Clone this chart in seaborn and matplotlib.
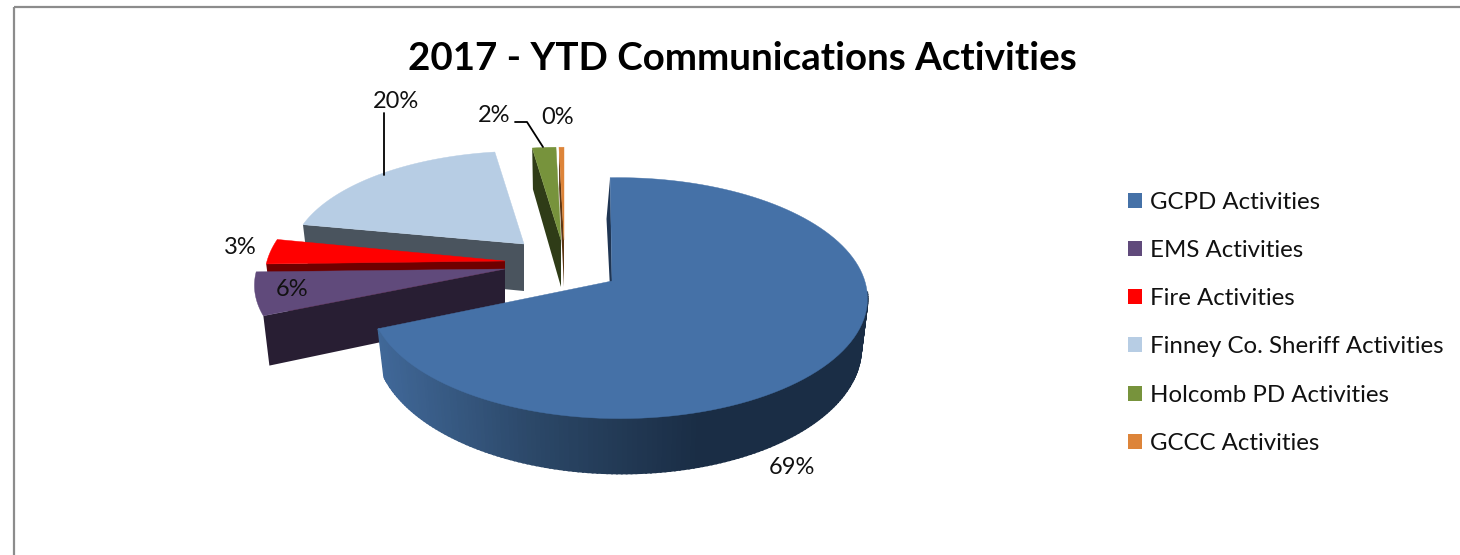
import numpy as np
import matplotlib.pyplot as plt
from matplotlib.patches import Patch
import seaborn as sns

# Chart data
title = "2017 - YTD Communications Activities"
categories = ["GCPD Activities", "EMS Activities", "Fire Activities",
              "Finney Co. Sheriff Activities", "Holcomb PD Activities", "GCCC Activities"]
shares = [68.6, 6.0, 3.4, 19.7, 1.9, 0.4]

# Colours: top faces and the darker side walls
top_colors = ["#4571a7", "#604a7b", "#ff0000", "#b7cde4", "#77933c", "#dd8439"]
wall_colors = ["#1f3553", "#281e33", "#6f0000", "#4a545e", "#2f3c17", "#5c3614"]

# Where each exploded slice ends up on the canvas (pixels)
apex_x = [612, 505, 505, 524, 561, 564]
apex_y = [281, 269, 261, 244, 240, 240]
radius_x = [246, 248, 238, 231, 228, 228]
radius_y = [118, 113, 118, 106, 106, 106]
yaw = [-0.027, 0, 0, 0, 0, 0]
start_shift = [-0.5, 0, 0, 0, 0, 0]
wall_lean = [1.0, 0, 0, 0, 0, 0]
persp = 0.142
depth = 47
draw_order = [3, 4, 5, 2, 1, 0]

sns.set_theme(style="white")
plt.rcParams["font.family"] = ["Lato", "DejaVu Sans"]

fig, ax = plt.subplots(figsize=(14.6, 5.55), dpi=100)
ax.set_position([0, 0, 1, 1])
ax.axis("off")

# frame of the original chart box
ax.plot([14, 14], [555, 7], color="#8c8c8c", lw=1.6, solid_capstyle="butt")
ax.plot([14, 1460], [7, 7], color="#8c8c8c", lw=1.6, solid_capstyle="butt")


def project(i, theta, r=1.0, z=0.0):
    # simple perspective for a tilted pie, theta clockwise from 12 o'clock
    t = np.radians(theta)
    w = 1 + persp * np.cos(t) * r + yaw[i] * np.sin(t) * r
    x = apex_x[i] + radius_x[i] * np.sin(t) * r / w * (1 - 0.025 * z)
    y = apex_y[i] - radius_y[i] * np.cos(t) * r / w + z * depth / w
    return x, y


bounds = np.concatenate([[0], np.cumsum(shares)]) * 3.6
gradient = sns.blend_palette(["#41699a", "#2b4767", "#1a2d45", "#1a2d45"], 200)

for i in draw_order:
    start, end = bounds[i] + start_shift[i], bounds[i + 1]

    # cut face along the start edge
    x0, y0 = project(i, start, 0.0, 0.0)
    x1, y1 = project(i, start, 1.0, 0.0)
    x2, y2 = project(i, start - wall_lean[i], 1.0, 1.0)
    x3, y3 = project(i, start, 0.0, 1.0)
    ax.fill([x0, x1, x2, x3], [y0, y1, y2, y3], color=wall_colors[i], lw=0)

    # outer rim with the shaded gradient, only the front of GCPD shows one
    if i == 0:
        thetas = np.arange(95.0, end + 1.0, 1.0)
        thetas[-1] = end
        for a, b in zip(thetas[:-1], thetas[1:]):
            xa, ya = project(i, a, 1.0, 0.0)
            xb, yb = project(i, b, 1.0, 0.0)
            xc, yc = project(i, b, 1.0, 1.0)
            xd, yd = project(i, a, 1.0, 1.0)
            pos = np.clip((860 - (xa + xb) / 2) / 490, 0, 1)
            col = gradient[int((1 - pos) * 199)]
            ax.fill([xa, xb, xc, xd], [ya, yb, yc, yd], color=col, lw=1.4)

    # top face
    xs, ys = project(i, np.linspace(start, end, 120))
    ax.fill(np.r_[apex_x[i], xs], np.r_[apex_y[i], ys], color=top_colors[i], lw=0.3)

ax.set_xlim(0, 1460)
ax.set_ylim(555, 0)

# data labels
label_x = [792, 292, 240, 396, 494, 558]
label_y = [468, 290, 247, 101, 116, 118]
for v, lx, ly in zip(shares, label_x, label_y):
    ax.text(lx, ly, f"{v:.0f}%", fontsize=17, color="#111111", ha="center", va="center")

# leader lines
ax.plot([384, 384], [113, 175], color="black", lw=1.3)
ax.plot([515, 527, 543], [122, 122, 147], color="black", lw=1.3)

ax.text(742.5, 58, title, fontsize=27.75, fontweight="bold", color="black", ha="center", va="center")

handles = [Patch(facecolor=c, edgecolor="none") for c in top_colors]
ax.legend(handles, categories, loc="upper left", bbox_to_anchor=(1128, 192),
          bbox_transform=ax.transData, frameon=False, fontsize=17.3, borderpad=0,
          handlelength=0.58, handleheight=0.58, handletextpad=0.34, labelspacing=1.13,
          labelcolor="#111111", borderaxespad=0)

fig.savefig("out.png", dpi=100)
